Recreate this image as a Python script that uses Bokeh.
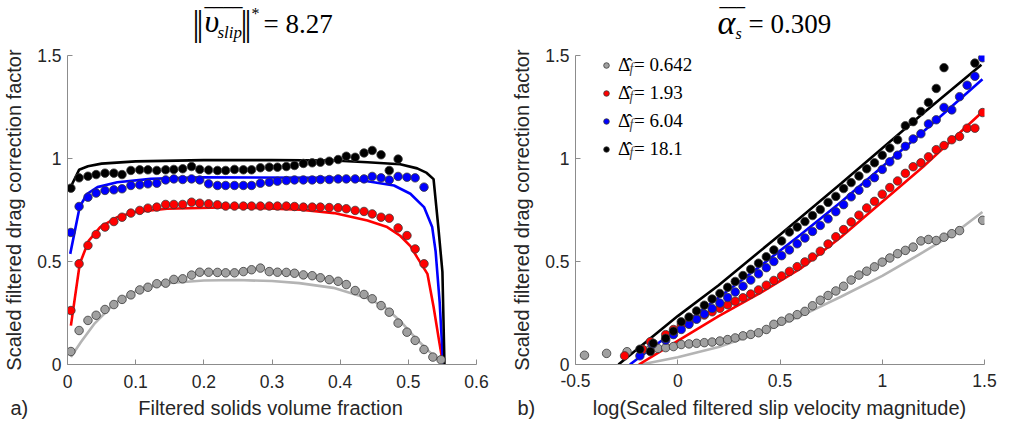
from bokeh.plotting import figure
from bokeh.layouts import row, column
from bokeh.models import (Range1d, FixedTicker, NumeralTickFormatter, Label,
                          Legend, LegendItem)
from bokeh.embed import file_html
from bokeh.resources import INLINE

# ---------------- data: panel a) ----------------
phi_bins = [0.005, 0.017, 0.030, 0.042, 0.055, 0.068, 0.080, 0.093, 0.106, 0.118,
            0.131, 0.144, 0.156, 0.169, 0.182, 0.194, 0.207, 0.220, 0.232, 0.245,
            0.258, 0.270, 0.283, 0.296, 0.308, 0.321, 0.333, 0.346, 0.359, 0.371,
            0.384, 0.397, 0.409, 0.422, 0.435, 0.447, 0.460, 0.472, 0.485, 0.498,
            0.510, 0.523, 0.536, 0.548]
a_gray = [0.063, 0.165, 0.214, 0.239, 0.267, 0.291, 0.316, 0.338, 0.362, 0.375,
          0.392, 0.395, 0.413, 0.416, 0.434, 0.448, 0.448, 0.447, 0.445, 0.445,
          0.451, 0.460, 0.468, 0.451, 0.448, 0.447, 0.443, 0.435, 0.431, 0.421,
          0.412, 0.404, 0.388, 0.359, 0.340, 0.319, 0.286, 0.254, 0.201, 0.157,
          0.117, 0.073, 0.036, 0.023]
a_red = [0.262, 0.489, 0.578, 0.631, 0.667, 0.694, 0.715, 0.735, 0.748, 0.759,
         0.764, 0.777, 0.777, 0.777, 0.788, 0.783, 0.780, 0.775, 0.769, 0.769,
         0.769, 0.769, 0.769, 0.769, 0.769, 0.769, 0.767, 0.764, 0.764, 0.764,
         0.762, 0.761, 0.756, 0.748, 0.743, 0.731, 0.715, 0.710, 0.663, 0.626,
         0.561, 0.489]
a_blue = [0.641, 0.767, 0.812, 0.832, 0.845, 0.848, 0.853, 0.869, 0.872, 0.877,
          0.880, 0.896, 0.901, 0.898, 0.901, 0.896, 0.877, 0.869, 0.869, 0.869,
          0.869, 0.869, 0.880, 0.885, 0.890, 0.893, 0.896, 0.896, 0.896, 0.898,
          0.898, 0.901, 0.901, 0.901, 0.901, 0.913, 0.906, 0.896, 0.913, 0.909,
          0.906, 0.861]
a_black = [0.856, 0.906, 0.914, 0.922, 0.929, 0.929, 0.922, 0.942, 0.945, 0.945,
           0.942, 0.945, 0.947, 0.950, 0.961, 0.947, 0.944, 0.942, 0.942, 0.947,
           0.945, 0.945, 0.955, 0.958, 0.958, 0.961, 0.966, 0.976, 0.979, 0.982,
           0.987, 0.995, 1.011, 1.006, 1.027, 1.039, 1.018, 0.942, 0.997]

# model curves, panel a)
a_gray_fit_x = [0.005, 0.020, 0.040, 0.070, 0.100, 0.125, 0.150, 0.200, 0.250, 0.300,
                0.340, 0.390, 0.440, 0.465, 0.490, 0.510, 0.530, 0.545, 0.553]
a_gray_fit_y = [0.036, 0.110, 0.200, 0.300, 0.355, 0.380, 0.396, 0.408, 0.410, 0.405,
                0.395, 0.372, 0.322, 0.280, 0.205, 0.130, 0.065, 0.020, 0.000]
a_red_fit_x = [0.005, 0.018, 0.031, 0.048, 0.073, 0.097, 0.146, 0.244, 0.342, 0.391,
               0.440, 0.469, 0.488, 0.503, 0.513, 0.528, 0.537, 0.545, 0.551]
a_red_fit_y = [0.189, 0.489, 0.600, 0.667, 0.715, 0.739, 0.756, 0.764, 0.752, 0.735,
               0.699, 0.667, 0.625, 0.575, 0.520, 0.440, 0.280, 0.117, 0.000]
a_blue_fit_x = [0.004, 0.018, 0.029, 0.044, 0.073, 0.122, 0.195, 0.390, 0.440, 0.479,
                0.503, 0.523, 0.535, 0.540, 0.546, 0.551]
a_blue_fit_y = [0.537, 0.767, 0.829, 0.861, 0.885, 0.901, 0.909, 0.906, 0.890, 0.869,
                0.829, 0.764, 0.667, 0.550, 0.300, 0.000]
a_black_fit_x = [0.005, 0.017, 0.030, 0.050, 0.100, 0.200, 0.300, 0.390, 0.440, 0.488,
                 0.513, 0.527, 0.537, 0.544, 0.550, 0.553]
a_black_fit_y = [0.864, 0.945, 0.962, 0.975, 0.986, 0.992, 0.992, 0.990, 0.982, 0.972,
                 0.952, 0.930, 0.900, 0.667, 0.450, 0.000]

# ---------------- data: panel b) ----------------
b_gray_x = [-0.456, -0.348, -0.248, -0.172, -0.134, -0.097, -0.059, -0.021,
            0.017, 0.055, 0.092, 0.130, 0.168, 0.206, 0.244, 0.281, 0.319, 0.357, 0.395,
            0.433, 0.470, 0.508, 0.546, 0.584, 0.622, 0.659, 0.697, 0.735, 0.773,
            0.811, 0.848, 0.886, 0.924, 0.962, 1.000, 1.037, 1.075, 1.113, 1.151,
            1.189, 1.226, 1.264, 1.302, 1.340, 1.378, 1.491]
b_gray_y = [0.045, 0.054, 0.062, 0.070, 0.075, 0.078, 0.082, 0.087,
            0.097, 0.100, 0.103, 0.106, 0.109, 0.114, 0.121, 0.129, 0.139, 0.146, 0.154,
            0.170, 0.195, 0.210, 0.226, 0.242, 0.258, 0.285, 0.312, 0.335, 0.357,
            0.380, 0.410, 0.434, 0.453, 0.474, 0.497, 0.517, 0.538, 0.554, 0.570,
            0.600, 0.607, 0.602, 0.618, 0.635, 0.650, 0.700]
b_red_x = [-0.260, -0.172, -0.134, -0.059, -0.021,
           0.017, 0.055, 0.092, 0.130, 0.168, 0.206, 0.244, 0.281, 0.319, 0.357, 0.395,
           0.433, 0.470, 0.508, 0.546, 0.584, 0.622, 0.659, 0.697, 0.735, 0.773,
           0.811, 0.848, 0.886, 0.924, 0.962, 1.000, 1.037, 1.075, 1.113, 1.151,
           1.189, 1.226, 1.264, 1.302, 1.340, 1.378, 1.415, 1.453, 1.491]
b_red_y = [0.042, 0.074, 0.111, 0.145, 0.170,
           0.190, 0.205, 0.222, 0.240, 0.256, 0.273, 0.290, 0.307, 0.324, 0.342, 0.362,
           0.385, 0.408, 0.430, 0.452, 0.475, 0.498, 0.522, 0.550, 0.585, 0.620,
           0.655, 0.692, 0.725, 0.760, 0.792, 0.827, 0.859, 0.891, 0.928, 0.960,
           0.979, 1.008, 1.043, 1.063, 1.091, 1.107, 1.147, 1.147, 1.223]
b_blue_x = [-0.185, -0.124, -0.059, -0.021,
            0.017, 0.055, 0.092, 0.130, 0.168, 0.206, 0.244, 0.281, 0.319, 0.357, 0.395,
            0.433, 0.470, 0.508, 0.546, 0.584, 0.622, 0.659, 0.697, 0.735, 0.773,
            0.811, 0.848, 0.886, 0.924, 0.962, 1.000, 1.037, 1.075, 1.113, 1.151,
            1.189, 1.226, 1.264, 1.302, 1.340, 1.378, 1.415, 1.453, 1.491]
b_blue_y = [0.042, 0.098, 0.118, 0.145,
            0.170, 0.195, 0.220, 0.245, 0.272, 0.298, 0.325, 0.352, 0.380, 0.410, 0.440,
            0.470, 0.500, 0.528, 0.556, 0.586, 0.614, 0.646, 0.675, 0.707, 0.742,
            0.776, 0.814, 0.846, 0.880, 0.907, 0.947, 0.984, 1.016, 1.059, 1.095,
            1.120, 1.168, 1.188, 1.248, 1.236, 1.300, 1.356, 1.399, 1.489]
b_black_x = [-0.185, -0.134, -0.120, -0.059, -0.021,
             0.017, 0.055, 0.092, 0.130, 0.168, 0.206, 0.244, 0.281, 0.319, 0.357, 0.395,
             0.433, 0.470, 0.508, 0.546, 0.584, 0.622, 0.659, 0.697, 0.735, 0.773,
             0.811, 0.848, 0.886, 0.924, 0.962, 1.000, 1.037, 1.075, 1.113, 1.151,
             1.189, 1.226, 1.264, 1.302, 1.453]
b_black_y = [0.074, 0.063, 0.103, 0.127, 0.162,
             0.207, 0.230, 0.260, 0.288, 0.318, 0.345, 0.375, 0.403, 0.432, 0.462, 0.492,
             0.523, 0.556, 0.600, 0.643, 0.667, 0.694, 0.723, 0.752, 0.787, 0.816,
             0.854, 0.883, 0.915, 0.950, 0.979, 1.016, 1.051, 1.091, 1.159, 1.179,
             1.228, 1.272, 1.340, 1.441, 1.463]

# model curves, panel b)
b_gray_fit_x = [-0.180, 0.000, 0.200, 0.430, 0.600, 0.800, 1.000, 1.200, 1.350, 1.490]
b_gray_fit_y = [0.000, 0.035, 0.085, 0.165, 0.235, 0.330, 0.430, 0.545, 0.635, 0.740]
b_red_fit_x = [-0.190, 0.000, 0.200, 0.400, 0.600, 0.800, 1.000, 1.200, 1.490]
b_red_fit_y = [0.000, 0.115, 0.235, 0.345, 0.465, 0.620, 0.790, 0.960, 1.227]
b_blue_fit_x = [-0.234, 0.000, 0.200, 0.400, 0.600, 0.800, 1.000, 1.200, 1.490]
b_blue_fit_y = [0.000, 0.175, 0.325, 0.475, 0.630, 0.790, 0.960, 1.130, 1.385]
b_black_fit_x = [-0.290, 0.000, 0.200, 0.500, 0.800, 1.000, 1.200, 1.485]
b_black_fit_y = [0.000, 0.235, 0.385, 0.630, 0.880, 1.050, 1.220, 1.455]

legend_labels = ["\u0394\u0302 = 0.642", "\u0394\u0302 = 1.93",
                 "\u0394\u0302 = 6.04", "\u0394\u0302 = 18.1"]

a_xticks = [0, 0.1, 0.2, 0.3, 0.4, 0.5, 0.6]
b_xticks = [-0.5, 0, 0.5, 1, 1.5]
yticks = [0, 0.5, 1, 1.5]

FILLS = ["#a0a0a0", "#ff0000", "#0000ff", "#000000"]
LINES = ["#b4b4b4", "#ff0000", "#0000ff", "#000000"]
AXC = "#8c8c8c"
TXT = "#262626"
W = 1009
TOP_H, MAIN_H, BOT_H = 44, 351, 29
MID = 0.3375   # label anchor sits this many ems above the glyph baseline


def make_fig(width, xr, xticks, fl, fr, ft, fb, xstand):
    p = figure(width=width, height=MAIN_H, x_range=Range1d(*xr), y_range=Range1d(0, 1.5),
               output_backend="svg", toolbar_location=None, title=None,
               min_border_left=fl, min_border_right=fr,
               min_border_top=ft, min_border_bottom=fb)
    p.grid.visible = False
    p.outline_line_color = None
    p.xaxis[0].ticker = FixedTicker(ticks=xticks, minor_ticks=[])
    p.yaxis[0].ticker = FixedTicker(ticks=yticks, minor_ticks=[])
    for ax in (p.xaxis[0], p.yaxis[0]):
        ax.axis_line_color = AXC
        ax.major_tick_line_color = AXC
        ax.minor_tick_line_color = None
        ax.major_tick_in = 5
        ax.major_tick_out = 0
        ax.major_label_text_font = "Liberation Sans"
        ax.major_label_text_font_size = "17.5px"
        ax.major_label_text_color = TXT
        ax.axis_label_text_font = "Liberation Sans"
        ax.axis_label_text_font_size = "20px"
        ax.axis_label_text_font_style = "normal"
        ax.axis_label_text_color = TXT
        ax.formatter = NumeralTickFormatter(format="0.[0]")
    p.yaxis[0].axis_label = "Scaled filtered drag correction factor"
    p.xaxis[0].major_label_standoff = xstand
    p.yaxis[0].major_label_standoff = 6
    p.yaxis[0].axis_label_standoff = 9
    return p


def strip(height):
    s = figure(width=W, height=height, x_range=Range1d(0, W), y_range=Range1d(height, 0),
               output_backend="svg", toolbar_location=None, title=None, min_border=0,
               x_axis_type=None, y_axis_type=None)
    s.grid.visible = False
    s.outline_line_color = None
    return s


def put(p, s, x, base, size, font="Liberation Serif", style="normal", color="#000000",
        align="left"):
    p.add_layout(Label(x=x, y=base - MID * size, text=s, text_font=font,
                       text_font_size=f"{size}px", text_font_style=style,
                       text_color=color, text_baseline="alphabetic", text_align=align))


def put_screen(p, s, ax, base, fl, fb, size, font="Liberation Serif", style="normal"):
    p.add_layout(Label(x=ax - fl, y=fb - (base - MID * size), x_units="screen",
                       y_units="screen", text=s, text_font=font,
                       text_font_size=f"{size}px", text_font_style=style,
                       text_baseline="alphabetic", text_align="left"))


# ---------------- top strip: titles ----------------
top = strip(TOP_H)
put(top, "|", 192, 35, 35)
put(top, "|", 196, 35, 35)
put(top, "\u03c5", 204, 31, 32, style="italic")
put(top, "slip", 217, 38, 17, style="italic")
put(top, "\u203e\u203e\u203e\u203e", 204, 20.5, 19, font="DejaVu Sans")
put(top, "|", 240, 35, 35)
put(top, "|", 244, 35, 35)
put(top, "*", 251, 18, 16)
put(top, "= 8.27", 263, 33, 27)

put(top, "\u03b1", 717, 33, 34, style="italic")
put(top, "\u203e\u203e\u203e", 719, 19.5, 17, font="DejaVu Sans")
put(top, "s", 735, 38, 16, style="italic")
put(top, "= 0.309", 748, 33, 27)

# ---------------- panel a ----------------
pa = make_fig(505, (0, 0.6), a_xticks, 67, 29, 11, 31, 10)
fits_a = [(a_gray_fit_x, a_gray_fit_y), (a_red_fit_x, a_red_fit_y),
          (a_blue_fit_x, a_blue_fit_y), (a_black_fit_x, a_black_fit_y)]
pts_a = [a_gray, a_red, a_blue, a_black]
for (fx, fy), c in zip(fits_a, LINES):
    pa.line(fx, fy, line_color=c, line_width=2.6)
for ys, c in zip(pts_a, FILLS):
    pa.scatter(phi_bins[:len(ys)], ys, size=8.5, fill_color=c, line_color="#3a3a3a",
               line_width=0.8)

# ---------------- panel b ----------------
FLb, FBb = 575, TOP_H + 11 + 311
pb = make_fig(504, (-0.5, 1.5), b_xticks, 70, 25, 11, 29, 9)
fits_b = [(b_gray_fit_x, b_gray_fit_y), (b_red_fit_x, b_red_fit_y),
          (b_blue_fit_x, b_blue_fit_y), (b_black_fit_x, b_black_fit_y)]
pts_b = [(b_gray_x, b_gray_y), (b_red_x, b_red_y), (b_blue_x, b_blue_y),
         (b_black_x, b_black_y)]
for (fx, fy), c in zip(fits_b, LINES):
    pb.line(fx, fy, line_color=c, line_width=2.6)
items = []
for (xs, ys), c, lab in zip(pts_b, FILLS, legend_labels):
    r = pb.scatter(xs, ys, size=8.5, fill_color=c, line_color="#3a3a3a", line_width=0.8)
    items.append(LegendItem(label=lab, renderers=[r]))

legend = Legend(items=items, location=(24, 204), padding=0, margin=0, spacing=6,
                glyph_width=14, glyph_height=22, label_height=22, label_standoff=5,
                label_text_font="Liberation Serif", label_text_font_size="19px",
                label_text_color="#000000", border_line_color=None,
                background_fill_alpha=0)
pb.add_layout(legend)
for i in range(4):
    put_screen(pb, "f", 629, 75 + 28 * i, FLb, FBb, 14, style="italic")

# ---------------- bottom strip: axis titles and panel letters ----------------
bot = strip(BOT_H)
put(bot, "a)", 10, 19, 20, font="Liberation Sans", color=TXT)
put(bot, "Filtered solids volume fraction", 270, 19, 20, font="Liberation Sans",
    color=TXT, align="center")
put(bot, "b)", 517, 19, 20, font="Liberation Sans", color=TXT)
put(bot, "log(Scaled filtered slip velocity magnitude)", 779, 19, 20,
    font="Liberation Sans", color=TXT, align="center")

layout = column(top, row(pa, pb), bot)
open("out.html", "w").write(file_html(layout, INLINE))
